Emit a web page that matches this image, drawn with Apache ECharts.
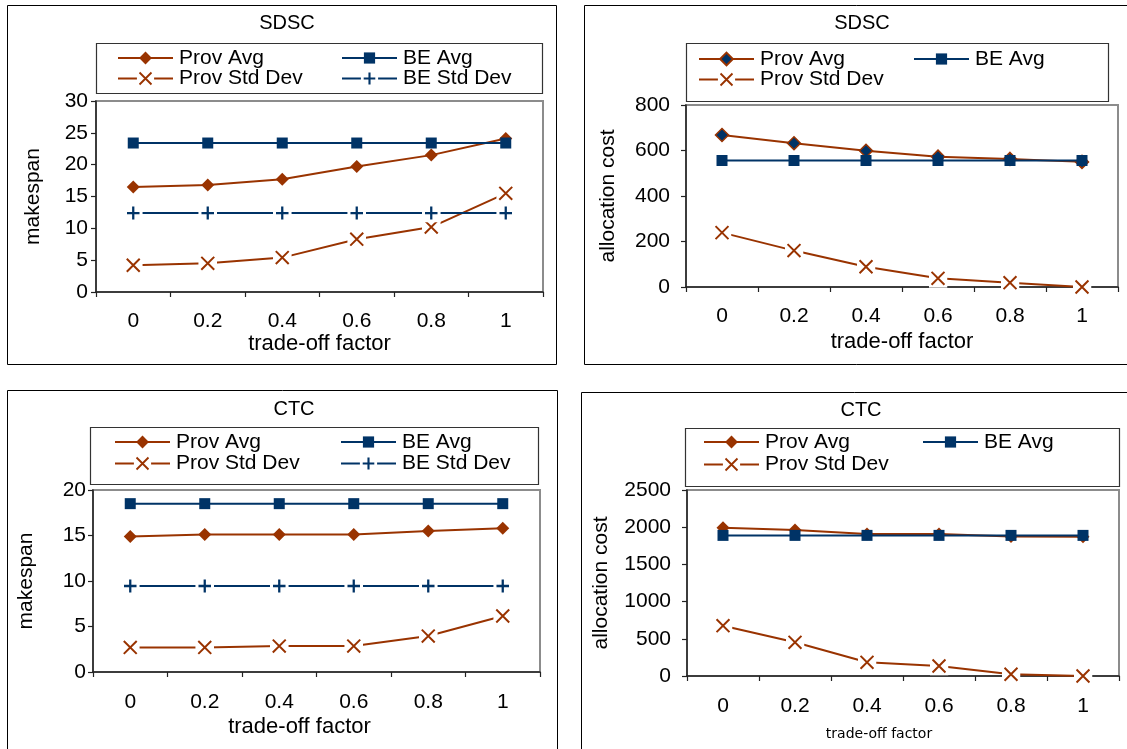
<!DOCTYPE html>
<html><head><meta charset="utf-8">
<script src="https://cdn.jsdelivr.net/npm/echarts@6/dist/echarts.min.js"></script>
<style>html,body{margin:0;padding:0;background:#fff}#c{width:1127px;height:749px}</style>
</head><body><div id="c"></div>
<script>
// ---------- data ----------
const tradeOffFactors = ['0', '0.2', '0.4', '0.6', '0.8', '1'];

const sdscMakespanProvAvg = [16.5, 16.8, 17.7, 19.7, 21.5, 24.1];
const sdscMakespanBeAvg   = [23.4, 23.4, 23.4, 23.4, 23.4, 23.4];
const sdscMakespanProvStd = [4.2, 4.5, 5.4, 8.3, 10.2, 15.5];
const sdscMakespanBeStd   = [12.4, 12.4, 12.4, 12.4, 12.4, 12.4];

const sdscCostProvAvg = [668, 632, 599, 573, 563, 550];
const sdscCostBeAvg   = [556, 556, 556, 556, 556, 556];
const sdscCostProvStd = [239, 160, 89, 38, 19, 0];

const ctcMakespanProvAvg = [14.9, 15.1, 15.1, 15.1, 15.5, 15.8];
const ctcMakespanBeAvg   = [18.5, 18.5, 18.5, 18.5, 18.5, 18.5];
const ctcMakespanProvStd = [2.7, 2.7, 2.85, 2.85, 3.95, 6.15];
const ctcMakespanBeStd   = [9.45, 9.45, 9.45, 9.45, 9.45, 9.45];

const ctcCostProvAvg = [1993, 1962, 1908, 1908, 1876, 1872];
const ctcCostBeAvg   = [1890, 1890, 1890, 1890, 1890, 1890];
const ctcCostProvStd = [676, 453, 184, 134, 23, 0];

const makespanTicks = { sdsc: [0, 30, 5], ctc: [0, 20, 5] };
const costTicks = { sdsc: [0, 800, 200], ctc: [0, 2500, 500] };

// ---------- style ----------
const BROWN = '#993300';
const NAVY = '#003366';
const FONT = '"Liberation Sans", Arial, sans-serif';

function svgSymbol(inner) {
  const svg = '<svg xmlns="http://www.w3.org/2000/svg" width="40" height="40" viewBox="0 0 20 20">' +
    '<rect width="20" height="20" fill="#ffffff"/>' + inner + '</svg>';
  return 'image://data:image/svg+xml;charset=utf-8,' + encodeURIComponent(svg);
}
const X_SYMBOL = svgSymbol('<path d="M3.2 3.2L16.8 16.8M16.8 3.2L3.2 16.8" stroke="' + BROWN + '" stroke-width="2.1" fill="none"/>');
const PLUS_SYMBOL = svgSymbol('<path d="M10 3.2V16.8M3.4 10H16.6" stroke="' + NAVY + '" stroke-width="2.4" fill="none"/>');

const panels = [
  { title: 'SDSC', tx: 287, ty: 23, box: [7, 5, 549, 359],
    grid: { left: 96, top: 101, width: 447, height: 191 }, ticks: makespanTicks.sdsc,
    yName: 'makespan', yNameGap: 52, yLabelMargin: 8, xLabelMargin: 19, xNameGap: 39, xNameSmall: false, xNameShift: 0,
    legendBox: [96, 43, 446, 50], rows: [58, 79], cols: [117, 341],
    series: [['Prov Avg', sdscMakespanProvAvg, 'provAvg'], ['BE Avg', sdscMakespanBeAvg, 'beAvg'],
             ['Prov Std Dev', sdscMakespanProvStd, 'provStd'], ['BE Std Dev', sdscMakespanBeStd, 'beStd']] },
  { title: 'SDSC', tx: 862, ty: 23, box: [584, 5, 560, 359],
    grid: { left: 686, top: 105, width: 432, height: 182 }, ticks: costTicks.sdsc,
    yName: 'allocation cost', yNameGap: 67, yLabelMargin: 16, xLabelMargin: 19, xNameGap: 44, xNameSmall: false, xNameShift: 0,
    legendBox: [686, 43, 422, 58], rows: [59, 80], cols: [698, 913],
    series: [['Prov Avg', sdscCostProvAvg, 'provAvgNavy'], ['BE Avg', sdscCostBeAvg, 'beAvg'],
             ['Prov Std Dev', sdscCostProvStd, 'provStd']] },
  { title: 'CTC', tx: 294, ty: 409, box: [7, 390, 550, 370],
    grid: { left: 93, top: 490, width: 447, height: 182 }, ticks: makespanTicks.ctc,
    yName: 'makespan', yNameGap: 56, yLabelMargin: 7, xLabelMargin: 20, xNameGap: 44, xNameSmall: false, xNameShift: -17,
    legendBox: [90, 427, 448, 57], rows: [442, 464], cols: [114, 340],
    series: [['Prov Avg', ctcMakespanProvAvg, 'provAvg'], ['BE Avg', ctcMakespanBeAvg, 'beAvg'],
             ['Prov Std Dev', ctcMakespanProvStd, 'provStd'], ['BE Std Dev', ctcMakespanBeStd, 'beStd']] },
  { title: 'CTC', tx: 861, ty: 410, box: [581, 392, 560, 370],
    grid: { left: 687, top: 490, width: 432, height: 186 }, ticks: costTicks.ctc,
    yName: 'allocation cost', yNameGap: 75, yLabelMargin: 16, xLabelMargin: 20, xNameGap: 51, xNameSmall: true, xNameShift: -24,
    legendBox: [685, 428, 434, 58], rows: [442, 465], cols: [703, 922],
    series: [['Prov Avg', ctcCostProvAvg, 'provAvg'], ['BE Avg', ctcCostBeAvg, 'beAvg'],
             ['Prov Std Dev', ctcCostProvStd, 'provStd']] }
];

const kindStyle = {
  provAvg:     { symbol: 'diamond', size: 13, color: BROWN, line: BROWN, ih: 16, z: 2 },
  provAvgNavy: { symbol: 'diamond', size: 13, color: NAVY, border: BROWN, line: BROWN, ih: 16, z: 2 },
  beAvg:       { symbol: 'rect', size: 11, color: NAVY, line: NAVY, ih: 14, z: 3 },
  provStd:     { symbol: X_SYMBOL, size: 19, color: BROWN, line: BROWN, ih: 22, z: 4 },
  beStd:       { symbol: PLUS_SYMBOL, size: 19, color: NAVY, line: NAVY, ih: 22, z: 5 }
};

const grids = [], xAxes = [], yAxes = [], series = [], legends = [], graphics = [];
const axisColor = '#222';

panels.forEach((p, i) => {
  graphics.push({ type: 'rect', z: -10, shape: { x: p.box[0] + 0.5, y: p.box[1] + 0.5, width: p.box[2], height: p.box[3] },
    style: { fill: 'none', stroke: '#000', lineWidth: 1 } });
  graphics.push({ type: 'rect', z: -10, shape: { x: p.legendBox[0] + 0.5, y: p.legendBox[1] + 0.5, width: p.legendBox[2], height: p.legendBox[3] },
    style: { fill: 'none', stroke: '#333', lineWidth: 1.2 } });
  graphics.push({ type: 'text', x: p.tx, y: p.ty,
    style: { text: p.title, font: '20px ' + FONT, fill: '#000', textAlign: 'center', textVerticalAlign: 'middle' } });

  grids.push(Object.assign({ show: true, borderColor: '#8c8c8c', borderWidth: 2, backgroundColor: '#fff' }, p.grid));
  const shiftPad = p.xNameShift < 0 ? [0, -2 * p.xNameShift, 0, 0] : 0;
  xAxes.push({
    type: 'category', gridIndex: i, data: tradeOffFactors, boundaryGap: true,
    name: 'trade-off factor', nameLocation: 'middle', nameGap: p.xNameGap,
    nameTextStyle: p.xNameSmall ? { fontSize: 14, fontFamily: '"DejaVu Sans", sans-serif', color: '#000', padding: shiftPad }
                                : { fontSize: 22, fontFamily: FONT, color: '#000', padding: shiftPad },
    axisLine: { show: true, lineStyle: { color: axisColor, width: 1.5 } },
    axisTick: { show: true, alignWithLabel: false, length: 5, lineStyle: { color: axisColor, width: 1.2 } },
    axisLabel: { margin: p.xLabelMargin, fontSize: 21, fontFamily: FONT, color: '#000' },
    splitLine: { show: false }
  });
  yAxes.push({
    type: 'value', gridIndex: i, min: p.ticks[0], max: p.ticks[1], interval: p.ticks[2],
    name: p.yName, nameLocation: 'middle', nameGap: p.yNameGap,
    nameTextStyle: { fontSize: 21, fontFamily: FONT, color: '#000' },
    axisLine: { show: true, lineStyle: { color: axisColor, width: 1.5 } },
    axisTick: { show: true, length: 5, lineStyle: { color: axisColor, width: 1.2 } },
    axisLabel: { margin: p.yLabelMargin, fontSize: 21, fontFamily: FONT, color: '#000',
                 formatter: (v) => String(v) },
    splitLine: { show: false }
  });

  p.series.forEach((s, k) => {
    const st = kindStyle[s[2]];
    const uname = 'p' + i + '|' + s[0];
    series.push({
      type: 'line', name: uname, xAxisIndex: i, yAxisIndex: i, data: s[1],
      z: st.z, symbol: st.symbol, symbolSize: st.size, showSymbol: true,
      lineStyle: { color: st.line, width: 2 },
      itemStyle: { color: st.color, borderColor: st.border || st.color, borderWidth: st.border ? 1.5 : 0 },
      emphasis: { disabled: true }, animation: false, silent: true
    });
    const col = (k % 2 === 0) ? p.cols[0] : p.cols[1];
    const row = (k < 2) ? p.rows[0] : p.rows[1];
    const h = Math.max(st.ih, 21);
    legends.push({
      show: true, orient: 'horizontal', left: col, top: row - h / 2, padding: 0,
      itemWidth: 55, itemHeight: st.ih, itemGap: 0, selectedMode: false,
      data: [uname],
      formatter: (name) => name.split('|')[1],
      textStyle: { fontSize: 21, lineHeight: 21, fontFamily: FONT, color: '#000', padding: [0, 0, 0, 1] }
    });
  });
});

const chart = echarts.init(document.getElementById('c'), null, { renderer: 'canvas' });
chart.setOption({
  backgroundColor: '#fff',
  animation: false,
  textStyle: { fontFamily: FONT },
  grid: grids, xAxis: xAxes, yAxis: yAxes, series: series, legend: legends,
  graphic: { elements: graphics }
});
</script>
</body></html>
